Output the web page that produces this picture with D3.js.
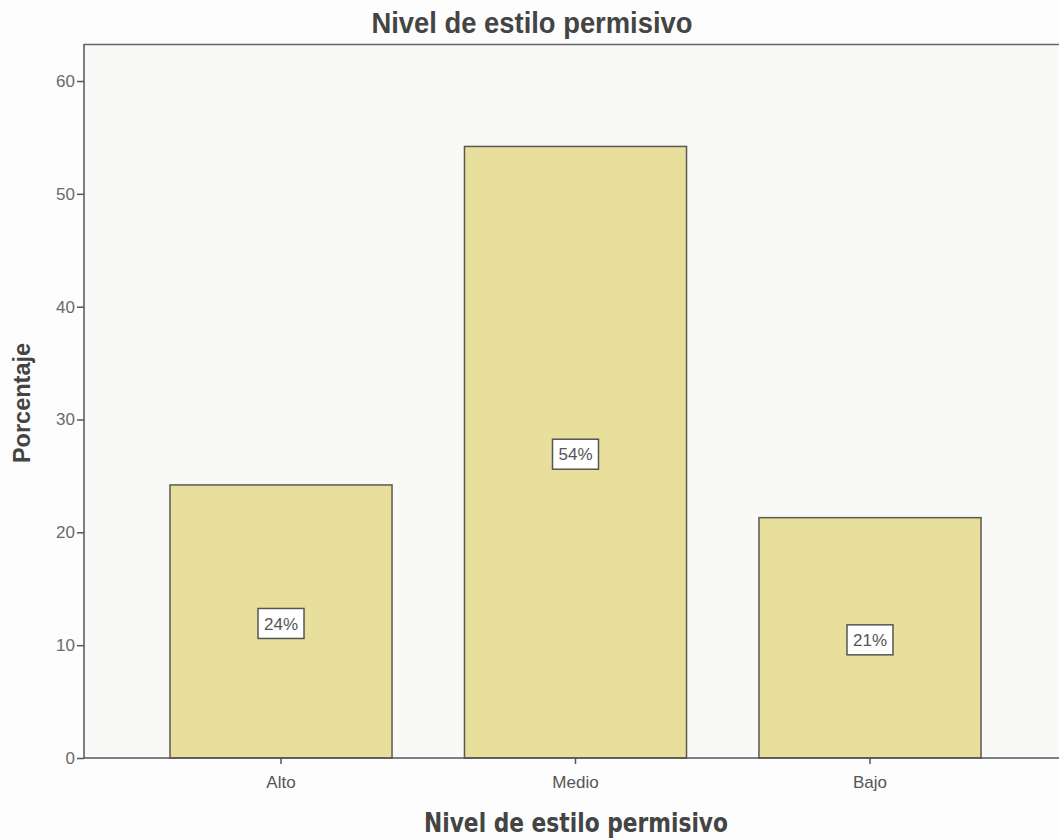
<!DOCTYPE html>
<html><head><meta charset="utf-8">
<script src="https://cdn.jsdelivr.net/npm/d3@7"></script>
<style>
html,body{margin:0;padding:0;background:#fdfdfd;}
svg{display:block;}
</style></head>
<body>
<svg id="chart" width="1059" height="840"></svg>
<script>
const categories = ["Alto", "Medio", "Bajo"];
const percentValues = [24.2, 54.2, 21.3];
const barLabels = ["24%", "54%", "21%"];
const yTicks = [0, 10, 20, 30, 40, 50, 60];

(function () {
const svg = d3.select("#chart");
const mLeft = 84, mTop = 44, mBottom = 758, mRight = 1067;
const sans = "Liberation Sans, Arial, sans-serif";

svg.append("rect").attr("x", mLeft).attr("y", mTop).attr("width", 1059 - mLeft).attr("height", mBottom - mTop).attr("fill", "#f9f9f7");

const y = d3.scaleLinear().domain([0, 60]).range([mBottom, 81]);
const x = d3.scaleBand().domain(categories).range([mLeft, mRight]).paddingInner(0.246).paddingOuter(0.292);

// frame top line
svg.append("line").attr("x1", mLeft).attr("x2", 1059).attr("y1", mTop + 0.5).attr("y2", mTop + 0.5).attr("stroke", "#666").attr("stroke-width", 1.5);

// bars
svg.selectAll("rect.bar").data(categories).enter().append("rect")
  .attr("class", "bar")
  .attr("x", d => x(d))
  .attr("y", (d, i) => y(percentValues[i]))
  .attr("width", x.bandwidth())
  .attr("height", (d, i) => y(0) - y(percentValues[i]))
  .attr("fill", "#e8df9d")
  .attr("stroke", "#5a5a52")
  .attr("stroke-width", 1.5);

// y axis
const yAxis = svg.append("g").attr("transform", `translate(${mLeft},0)`)
  .call(d3.axisLeft(y).tickValues(yTicks).tickSize(7).tickPadding(2));
yAxis.select(".domain").attr("d", `M0,${mTop}V${mBottom}`).attr("stroke", "#555").attr("stroke-width", 1.5);
yAxis.selectAll(".tick line").attr("stroke", "#555").attr("stroke-width", 1.5);
yAxis.selectAll(".tick text").attr("fill", "#6a6a6a").style("font-family", sans).style("font-size", "17px");

// x axis
const xAxis = svg.append("g").attr("transform", `translate(0,${mBottom})`)
  .call(d3.axisBottom(x).tickSize(6).tickPadding(12));
xAxis.select(".domain").attr("d", `M${mLeft},0H1059`).attr("stroke", "#555").attr("stroke-width", 1.5);
xAxis.selectAll(".tick line").attr("stroke", "#555").attr("stroke-width", 1.5);
xAxis.selectAll(".tick text").attr("fill", "#555").style("font-family", sans).style("font-size", "17px");

// value labels
const lbl = svg.selectAll("g.vlab").data(categories).enter().append("g")
  .attr("class", "vlab")
  .attr("transform", (d, i) => `translate(${x(d) + x.bandwidth() / 2},${y(percentValues[i] / 2) + 2})`);
lbl.append("rect").attr("x", -23).attr("y", -15).attr("width", 46).attr("height", 30)
  .attr("fill", "#ffffff").attr("stroke", "#555").attr("stroke-width", 1.5);
lbl.append("text").attr("text-anchor", "middle").attr("dy", "0.36em")
  .attr("fill", "#555").style("font-family", sans).style("font-size", "17px")
  .text((d, i) => barLabels[i]);

// title
svg.append("text").attr("x", 532).attr("y", 33).attr("text-anchor", "middle")
  .attr("textLength", 321).attr("lengthAdjust", "spacingAndGlyphs")
  .attr("fill", "#444").style("font-family", sans)
  .style("font-weight", "bold").style("font-size", "29px").text("Nivel de estilo permisivo");

// x title
svg.append("text").attr("x", 576).attr("y", 832).attr("text-anchor", "middle")
  .attr("textLength", 304).attr("lengthAdjust", "spacingAndGlyphs")
  .attr("fill", "#444").style("font-family", "DejaVu Sans, Verdana, sans-serif")
  .style("font-weight", "bold").style("font-size", "27px").text("Nivel de estilo permisivo");

// y title
svg.append("text").attr("transform", "translate(30,403) rotate(-90)").attr("text-anchor", "middle")
  .attr("fill", "#444").style("font-family", sans)
  .style("font-weight", "bold").style("font-size", "23.5px").text("Porcentaje");
})();
</script>
</body></html>
